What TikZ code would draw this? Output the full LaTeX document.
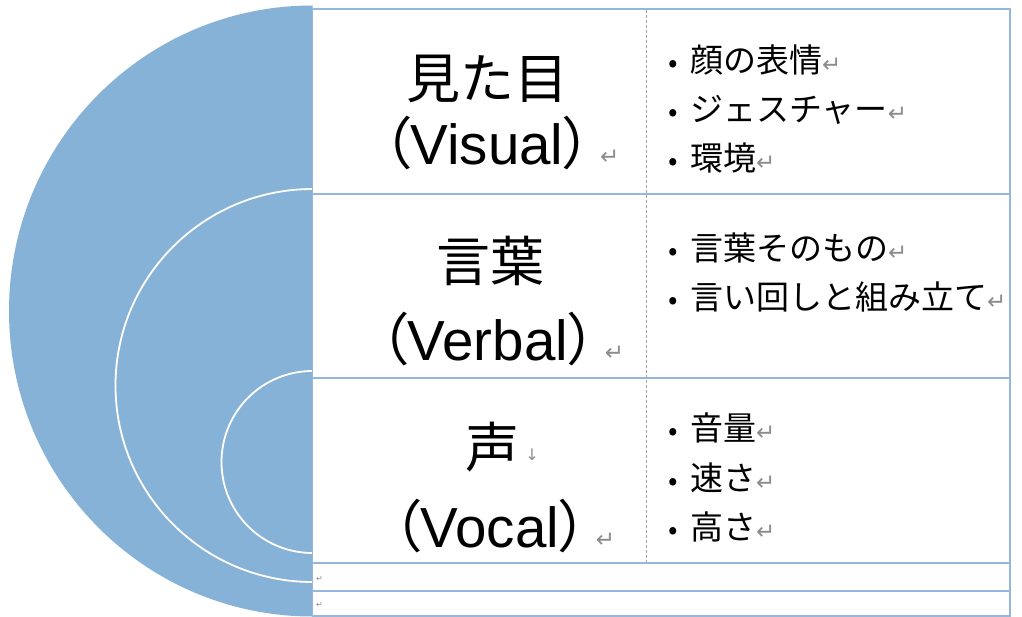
\documentclass[tikz,border=0pt]{standalone}
\usepackage{fontspec}
\newfontfamily\jp{Noto Sans CJK JP}
\newfontfamily\jpp[RawFeature=+palt]{Noto Sans CJK JP}
\newfontfamily\ar{Liberation Sans}
\newfontfamily\dv{DejaVu Sans}
\definecolor{halfblue}{RGB}{135,178,215}
\definecolor{tabline}{RGB}{149,183,222}
\definecolor{markgray}{RGB}{140,140,140}
\newcommand{\ret}{{\dv\fontsize{23}{23}\selectfont\color{markgray}↵}}
\newcommand{\retsmall}{{\dv\fontsize{8}{8}\selectfont\color{markgray}↵}}
\newcommand{\bul}{\makebox[34pt][c]{\fontsize{28}{30}\selectfont•}}
\tikzset{
  big/.style={inner sep=0pt, font=\jp\fontsize{54}{60}\selectfont},
  eng/.style={inner sep=0pt, anchor=base},
  item/.style={inner sep=0pt, anchor=west, font=\jp\fontsize{33}{36}\selectfont},
  retmark/.style={inner sep=0pt, anchor=base west},
  tab/.style={draw=tabline, line width=1.6pt},
  arcline/.style={draw=white, line width=1.8pt}
}
\newcommand{\paren}[1]{{\fontsize{56.5}{60}\selectfont{\jpp （}{\ar #1}{\jpp ）}}}
\begin{document}
\begin{tikzpicture}[x=1pt,y=-1pt]
\useasboundingbox (0,0) rectangle (1022,617);
\fill[white] (0,0) rectangle (1022,617);
% half disk
\begin{scope}
\clip (0,0) rectangle (312.5,617);
\fill[halfblue] (312.5,311) ellipse [x radius=303.5, y radius=305.5];
\draw[arcline] (312.5,385.5) ellipse [x radius=197, y radius=196.5];
\draw[arcline] (312.5,462) ellipse [x radius=91, y radius=91];
\end{scope}
% table
\draw[tab] (312.5,9) rectangle (1010,616);
\draw[tab] (312.5,194) -- (1010,194);
\draw[tab] (312.5,378) -- (1010,378);
\draw[tab] (312.5,563) -- (1010,563);
\draw[tab] (312.5,591) -- (1010,591);
\draw[markgray!80, line width=0.8pt, dash pattern=on 3pt off 2pt] (646,10) -- (646,562);
% left column
\node[big] (n1) at (487,79) {見た目};
\node[eng] (e1) at (487,165) {\paren{Visual}};
\node[retmark] (r1) at ([xshift=8pt]e1.base east) {\ret};
\node[big] (n2) at (490,261) {言葉};
\node[eng] (e2) at (488,360) {\paren{Verbal}};
\node[retmark] (r2) at ([xshift=8pt]e2.base east) {\ret};
\node[big] (n3) at (492,447) {声};
\node[retmark] (d3) at ([xshift=6pt,yshift=7pt]n3.base east) {{\dv\fontsize{16}{16}\selectfont\color{markgray}↓}};
\node[eng] (e3) at (490,547) {\paren{Vocal}};
\node[retmark] (r3) at ([xshift=8pt]e3.base east) {\ret};
% right column
\node[item] (i1) at (656,60) {\bul 顔の表情\ret};
\node[item] (i2) at (656,110) {\bul ジェスチャー\ret};
\node[item] (i3) at (656,158) {\bul 環境\ret};
\node[item] (i4) at (656,248) {\bul 言葉そのもの\ret};
\node[item] (i5) at (656,297) {\bul 言い回しと組み立て\ret};
\node[item] (i6) at (656,428) {\bul 音量\ret};
\node[item] (i7) at (656,478) {\bul 速さ\ret};
\node[item] (i8) at (656,527) {\bul 高さ\ret};
% empty row marks
\node[retmark] (m1) at (316,581) {\retsmall};
\node[retmark] (m2) at (316,607) {\retsmall};
\end{tikzpicture}
\end{document}
